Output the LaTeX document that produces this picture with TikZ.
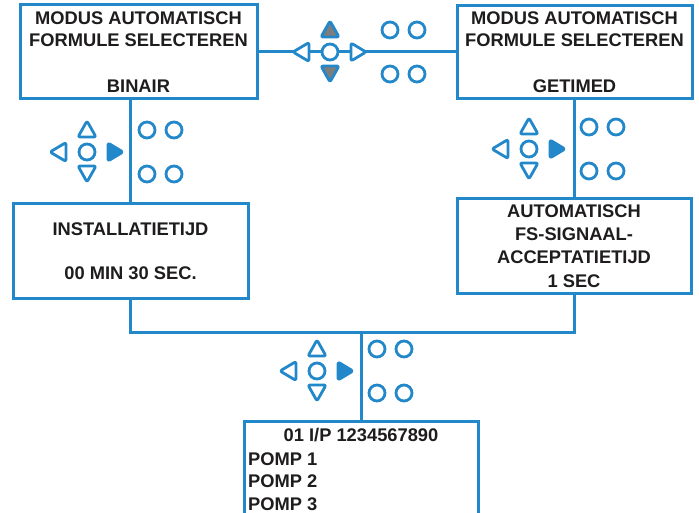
\documentclass[tikz,border=0pt]{standalone}
\usepackage{fontspec}
\setmainfont{Liberation Sans}
\usetikzlibrary{positioning}
\definecolor{keyblue}{RGB}{35,136,201}
\definecolor{keygray}{RGB}{125,125,125}
\definecolor{inkdark}{RGB}{30,28,29}

\tikzset{
  screen/.style={draw=keyblue, line width=3pt, fill=white, text=inkdark,
    align=center, inner sep=0pt, font=\bfseries\fontsize{18.3}{22.5}\selectfont},
  caption/.style={text=inkdark, inner sep=0pt, font=\bfseries\fontsize{18.3}{22.5}\selectfont},
  wire/.style={draw=keyblue, line width=3pt},
  key/.style={draw=keyblue, fill=white, line width=2.8pt, line join=round, rounded corners=2pt},
  keyon/.style={key, fill=keyblue},
  keygrey/.style={key, fill=keygray},
  pics/navpad/.style n args={2}{code={
    \draw[key] (0,0) circle[radius=8pt];
    \draw[#1] (-9,-15) -- (9,-15) -- (0,-31) -- cycle;
    \draw[#1] (-9,14) -- (9,14) -- (0,30) -- cycle;
    \draw[key] (-21,-9.5) -- (-21,9.5) -- (-37,0) -- cycle;
    \draw[#2] (21,-9) -- (21,9) -- (36,0) -- cycle;
    \foreach \kx in {60,87}
      \foreach \ky in {-22,22}
        \draw[key] (\kx,\ky) circle[radius=8pt];
  }}
}

\begin{document}
\begin{tikzpicture}[x=1pt, y=-1pt]
\useasboundingbox (0,0) rectangle (699,513);

% screens
\node[screen, minimum width=237pt, minimum height=94pt] (modeA) at (138.5,52)
  {MODUS AUTOMATISCH\\FORMULE SELECTEREN\\[23.5pt]BINAIR};
\node[screen, minimum width=235pt, minimum height=93pt] (modeB) at (574.5,52)
  {MODUS AUTOMATISCH\\FORMULE SELECTEREN\\[23.5pt]GETIMED};
\node[screen, minimum width=235pt, minimum height=94pt] (install) at (130.5,251)
  {INSTALLATIETIJD\\[21.5pt]00 MIN 30 SEC.};
\node[screen, minimum width=234pt, minimum height=94pt,
  font=\bfseries\fontsize{18.3}{23.3}\selectfont] (acc) at (574,246)
  {AUTOMATISCH\\FS-SIGNAAL-\\ACCEPTATIETIJD\\1 SEC};
\node[screen, anchor=north, minimum width=234pt, minimum height=110pt] (pumps) at (361,420) {};
\node[caption, anchor=base] (inputs) at (361,441) {01 I/P 1234567890};
\node[caption, anchor=base west] (pomp1) at (248,465) {POMP 1};
\node[caption, anchor=base west] (pomp2) at (248,487.5) {POMP 2};
\node[caption, anchor=base west] (pomp3) at (248,510) {POMP 3};

% connectors
\coordinate (join) at (361,332);
\draw[wire] (modeA.east) -- (modeB.west);
\draw[wire] (install.north |- modeA.south) -- (install.north);
\draw[wire] (acc.north |- modeB.south) -- (acc.north);
\draw[wire] (install.south) |- (join) -| (acc.south);
\draw[wire] (join) -- (pumps.north);

% keypads
\pic at (330,52) {navpad={keygrey}{key}};
\pic at (87,152) {navpad={key}{keyon}};
\pic at (529,149) {navpad={key}{keyon}};
\pic at (317,371) {navpad={key}{keyon}};
\end{tikzpicture}
\end{document}
